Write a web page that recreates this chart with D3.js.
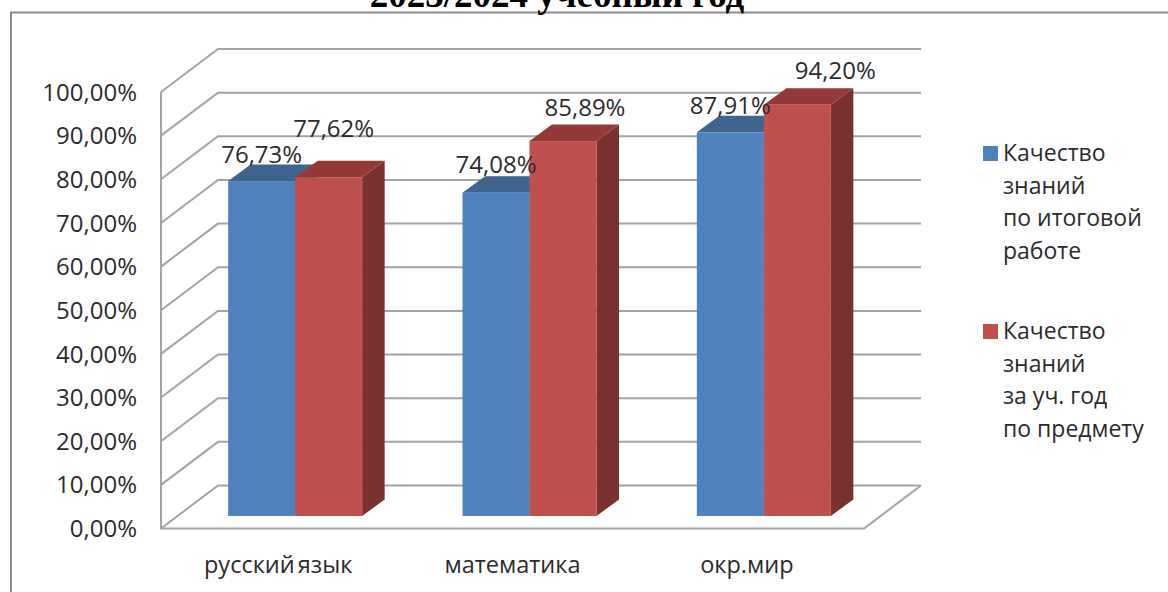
<!DOCTYPE html>
<html>
<head>
<meta charset="utf-8">
<script src="https://cdn.jsdelivr.net/npm/d3@7"></script>
<style>
  html, body { margin: 0; padding: 0; background: #fff; }
  svg { display: block; }
  text { font-family: "Open Sans", "Noto Sans", sans-serif; fill: #2b2b2b; }
</style>
</head>
<body>
<svg id="chart" width="1168" height="592"></svg>
<script>
const titleText = "2023/2024 учебный год"
const categories = ["русский язык", "математика", "окр.мир"]
const seriesNames = ["итоговая", "предмет"]
const itogValues = [76.73, 74.08, 87.91]
const predmetValues = [77.62, 85.89, 94.20]
const yTicks = [0, 10, 20, 30, 40, 50, 60, 70, 80, 90, 100]
const legendLines = [
  ["Качество", "знаний", "по итоговой", "работе"],
  ["Качество", "знаний", "за уч. год", "по предмету"]
]

const colors = {
  front: ["#4f81bd", "#c0504d"],
  top: ["#3f658f", "#933a38"],
  side: ["#345a85", "#7a302e"]
}

// the labels were dragged by hand in the original, so each one has its own nudge
const labelNudge = [
  [[0, -27], [0, -28], [0, -26.5]],
  [[5, -49], [22, -34], [38, -34]]
]

const svg = d3.select("#chart")
const fmt = v => v.toFixed(2).replace(".", ",") + "%"

// frame around the chart, cut off by the window on the right and bottom
svg.append("path")
  .attr("d", "M11,592V12.5H1168")
  .attr("fill", "none")
  .attr("stroke", "#8c8c8c")
  .attr("stroke-width", 2)

// title is cut by the top of the page in the reference too
svg.append("text")
  .text(titleText)
  .attr("x", 557).attr("y", 7)
  .attr("text-anchor", "middle")
  .style("font-family", "'Liberation Serif', serif")
  .style("font-weight", "bold")
  .style("font-size", "37px")
  .style("fill", "#000")

// 3d box: front plane of the walls, back plane is shifted by depth
const depth = { x: 57, y: -43 }
const barDepth = { x: 22.5, y: -16.5 }
const y = d3.scaleLinear().domain([0, 100]).range([528.5, 92])
const x0 = d3.scaleBand().domain(categories).range([161, 864])
const barWidth = 67
const barShift = 17 // bars stand in the middle of the floor depth
const x1 = d3.scaleBand().domain(seriesNames).range([0, barWidth * 2])
const barBase = 516

const grid = svg.append("g")
  .attr("fill", "none")
  .attr("stroke", "#a3a3a3")
  .attr("stroke-width", 2)

// side wall and back wall gridlines
grid.selectAll("path.tick")
  .data(yTicks)
  .join("path")
  .attr("class", "tick")
  .attr("d", d => {
    const yy = y(d)
    return `M161,${yy}L${161 + depth.x},${yy + depth.y}H${864 + depth.x}`
  })
// left axis and floor
grid.append("path")
  .attr("d", `M161,${y(100)}V${y(0)}H864L${864 + depth.x},${y(0) + depth.y}`)

svg.append("g")
  .selectAll("text")
  .data(yTicks)
  .join("text")
  .attr("x", 137).attr("y", d => y(d))
  .attr("dy", "0.36em")
  .attr("text-anchor", "end")
  .style("font-size", "24px")
  .text(d => fmt(d))

const groups = svg.append("g")
  .selectAll("g")
  .data(categories)
  .join("g")
  .attr("transform", c => `translate(${x0(c) + (x0.bandwidth() - barWidth * 2) / 2 + barShift},0)`)

seriesNames.forEach((s, si) => {
  const vals = si === 0 ? itogValues : predmetValues
  const h = v => y(0) - y(v)
  const bars = groups.append("g")
    .attr("transform", `translate(${x1(s)},0)`)
  // side, top, front
  bars.append("path")
    .attr("fill", colors.side[si])
    .attr("d", (c, i) => {
      const t = barBase - h(vals[i])
      return `M${barWidth},${t}l${barDepth.x},${barDepth.y}V${barBase + barDepth.y}l${-barDepth.x},${-barDepth.y}Z`
    })
  bars.append("path")
    .attr("fill", colors.top[si])
    .attr("d", (c, i) => {
      const t = barBase - h(vals[i])
      return `M0,${t}l${barDepth.x},${barDepth.y}h${barWidth}l${-barDepth.x},${-barDepth.y}Z`
    })
  bars.append("rect")
    .attr("fill", colors.front[si])
    .attr("x", 0)
    .attr("width", barWidth)
    .attr("y", (c, i) => barBase - h(vals[i]))
    .attr("height", (c, i) => h(vals[i]))
})

// data labels go on top of every bar
seriesNames.forEach((s, si) => {
  const vals = si === 0 ? itogValues : predmetValues
  groups.append("text")
    .attr("x", (c, i) => x1(s) + barWidth / 2 + labelNudge[si][i][0])
    .attr("y", (c, i) => barBase - (y(0) - y(vals[i])) + labelNudge[si][i][1])
    .attr("dy", "0.36em")
    .attr("text-anchor", "middle")
    .style("font-size", "24px")
    .text((c, i) => fmt(vals[i]))
})

svg.append("g")
  .selectAll("text")
  .data(categories)
  .join("text")
  .attr("x", c => x0(c) + x0.bandwidth() / 2)
  .attr("y", 573)
  .attr("text-anchor", "middle")
  .style("font-size", "23.5px")
  .style("word-spacing", "-3px")
  .text(c => c)

// legend
const legendTop = [153, 331]
const legend = svg.append("g")
  .selectAll("g")
  .data(legendLines)
  .join("g")
  .attr("transform", (d, i) => `translate(983,${legendTop[i]})`)
legend.append("rect")
  .attr("y", -7)
  .attr("width", 15).attr("height", 15)
  .attr("fill", (d, i) => colors.front[i])
legend.selectAll("text")
  .data(d => d)
  .join("text")
  .attr("x", 20)
  .attr("y", (d, i) => i * 32.5)
  .attr("dy", "0.36em")
  .style("font-size", "23px")
  .text(d => d)
</script>
</body>
</html>
